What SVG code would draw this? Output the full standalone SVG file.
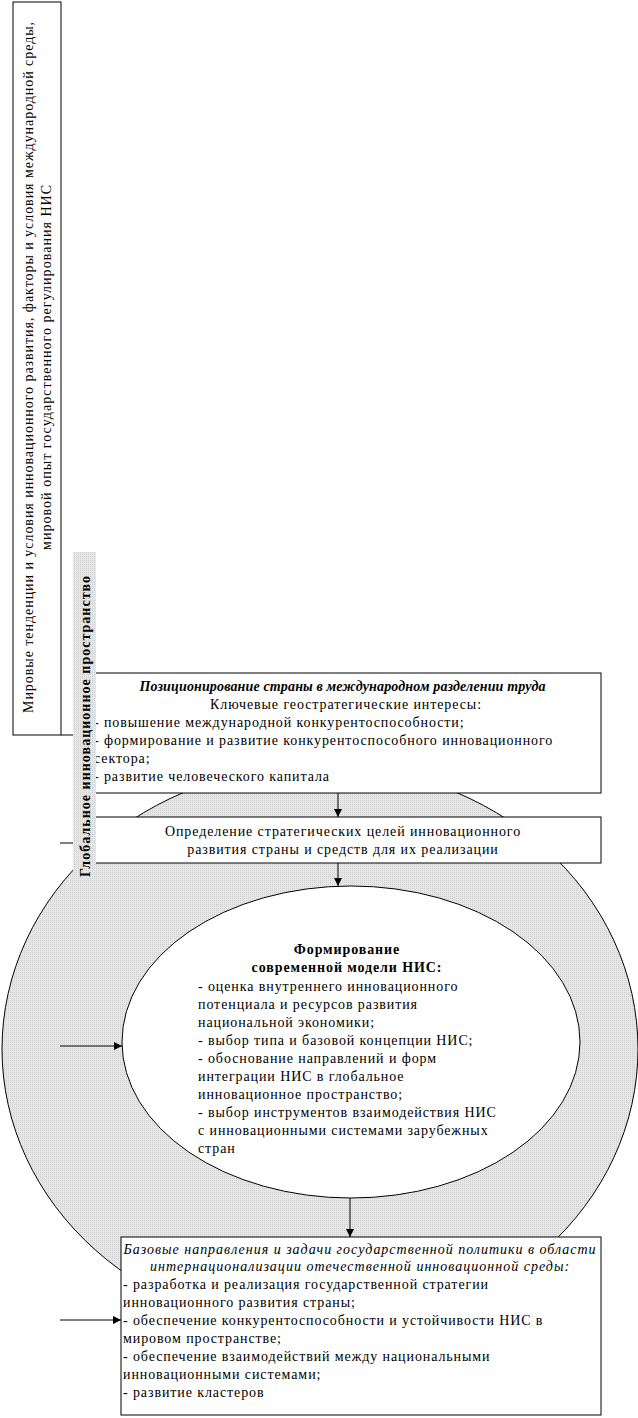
<svg xmlns="http://www.w3.org/2000/svg" width="638" height="1418" viewBox="0 0 638 1418">
<style>
.t{font-family:"Liberation Serif","Times New Roman",serif;font-size:14px;fill:#000;letter-spacing:0.9px}
.b{font-weight:bold}
.i{font-style:italic}
.c{text-anchor:middle}
.box{fill:#fff;stroke:#000;stroke-width:1}
.ln{stroke:#000;stroke-width:1;fill:none}
</style>
<defs>
<pattern id="dots" width="2" height="2" patternUnits="userSpaceOnUse">
<rect width="2" height="2" fill="#e6e6e6"/>
<rect width="1" height="1" fill="#d2d2d2"/>
</pattern>
<marker id="ah" viewBox="0 0 8 8" refX="8" refY="4" markerWidth="8" markerHeight="8" markerUnits="userSpaceOnUse" orient="auto">
<path d="M0,0 L8,4 L0,8 z" fill="#000"/>
</marker>
</defs>
<g id="global-space">
<ellipse cx="320" cy="1049" rx="318" ry="284" fill="url(#dots)" stroke="#000" stroke-width="1"/>
</g>
<g id="nis-model">
<ellipse cx="351" cy="1042" rx="229" ry="156" fill="#fff" stroke="#000" stroke-width="1"/>
<text class="t b c" x="347" y="954">Формирование</text>
<text class="t b c" x="347" y="972">современной модели НИС:</text>
<text class="t" x="198" y="991">- оценка внутреннего инновационного</text>
<text class="t" x="198" y="1009">потенциала и ресурсов развития</text>
<text class="t" x="198" y="1027">национальной экономики;</text>
<text class="t" x="198" y="1045">- выбор типа и базовой концепции НИС;</text>
<text class="t" x="198" y="1063">- обоснование направлений и форм</text>
<text class="t" x="198" y="1081">интеграции НИС в глобальное</text>
<text class="t" x="198" y="1099">инновационное пространство;</text>
<text class="t" x="198" y="1117">- выбор инструментов взаимодействия НИС</text>
<text class="t" x="198" y="1135">с инновационными системами зарубежных</text>
<text class="t" x="198" y="1153">стран</text>
</g>
<g id="positioning">
<rect class="box" x="88" y="673" width="513" height="120"/>
<text class="t b i c" x="343" y="691" textLength="407" lengthAdjust="spacing">Позиционирование страны в международном разделении труда</text>
<text class="t c" x="346" y="709">Ключевые геостратегические интересы:</text>
<text class="t" x="94" y="727">- повышение международной конкурентоспособности;</text>
<text class="t" x="94" y="745">- формирование и развитие конкурентоспособного инновационного</text>
<text class="t" x="94" y="763">сектора;</text>
<text class="t" x="94" y="781">- развитие человеческого капитала</text>
</g>
<g id="strategic-goals">
<rect class="box" x="88" y="817" width="513" height="46"/>
<text class="t c" x="343" y="836">Определение стратегических целей инновационного</text>
<text class="t c" x="343" y="854">развития страны и средств для их реализации</text>
</g>
<g id="state-policy">
<rect class="box" x="121" y="1237" width="480" height="178"/>
<text class="t i c" x="360" y="1254" textLength="473" lengthAdjust="spacing">Базовые направления и задачи государственной политики в области</text>
<text class="t i c" x="360" y="1271" textLength="420" lengthAdjust="spacing">интернационализации отечественной инновационной среды:</text>
<text class="t" x="123" y="1289">- разработка и реализация государственной стратегии</text>
<text class="t" x="123" y="1307">инновационного развития страны;</text>
<text class="t" x="123" y="1325">- обеспечение конкурентоспособности и устойчивости НИС в</text>
<text class="t" x="123" y="1343">мировом пространстве;</text>
<text class="t" x="123" y="1361">- обеспечение взаимодействий между национальными</text>
<text class="t" x="123" y="1379">инновационными системами;</text>
<text class="t" x="123" y="1397">- развитие кластеров</text>
</g>
<g id="global-label">
<rect x="73" y="552" width="23" height="328" fill="url(#dots)"/>
<text class="t b" transform="translate(90,877) rotate(-90)" x="0" y="0" textLength="302" lengthAdjust="spacing">Глобальное инновационное пространство</text>
</g>
<g id="world-trends">
<rect class="box" x="13" y="2" width="48" height="733"/>
<text class="t c" transform="translate(33,367) rotate(-90)" x="0" y="0" textLength="692" lengthAdjust="spacing">Мировые тенденции и условия инновационного развития, факторы и условия международной среды,</text>
<text class="t c" transform="translate(51,367) rotate(-90)" x="0" y="0" textLength="366" lengthAdjust="spacing">мировой опыт государственного регулирования НИС</text>
</g>
<g id="connectors">
<line class="ln" x1="61" y1="735" x2="73" y2="735"/>
<line class="ln" x1="60" y1="843" x2="73" y2="843"/>
<line class="ln" x1="338" y1="793" x2="338" y2="817" marker-end="url(#ah)"/>
<line class="ln" x1="338" y1="863" x2="338" y2="886" marker-end="url(#ah)"/>
<line class="ln" x1="350" y1="1198" x2="350" y2="1237" marker-end="url(#ah)"/>
<line class="ln" x1="60" y1="1046" x2="122" y2="1046" marker-end="url(#ah)"/>
<line class="ln" x1="60" y1="1320" x2="121" y2="1320" marker-end="url(#ah)"/>
</g>
</svg>
